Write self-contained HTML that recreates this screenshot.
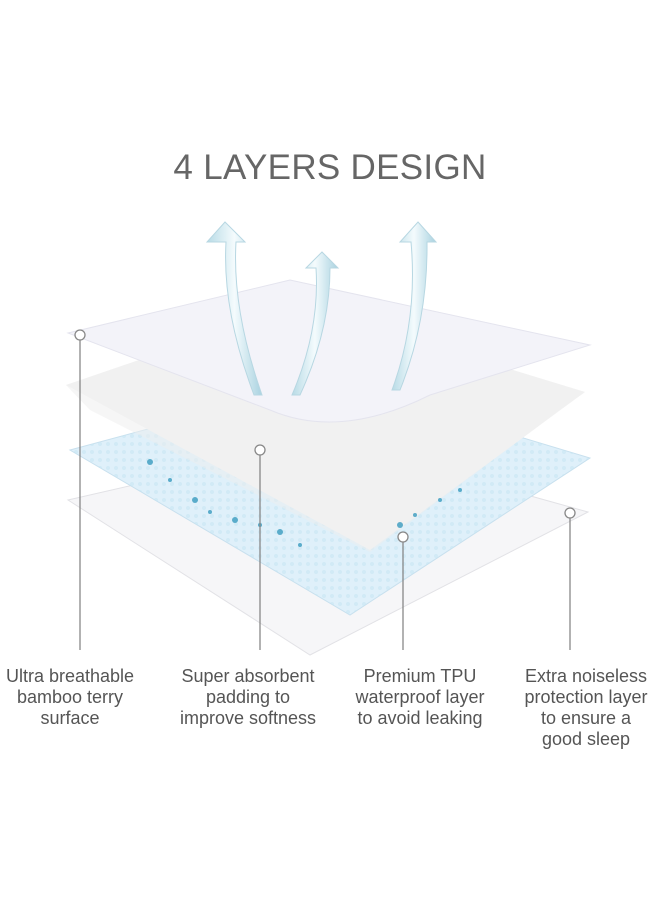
<!DOCTYPE html>
<html><head><style>
body{margin:0;background:#fff;width:660px;height:900px;overflow:hidden;position:relative;font-family:"Liberation Sans",sans-serif}
.t{position:absolute;top:148px;left:0;width:660px;text-align:center;font-size:35px;color:#666;letter-spacing:0.3px}
.l{position:absolute;top:666px;font-size:18px;line-height:21px;color:#555;text-align:center;width:180px}
</style></head><body>
<div class="t">4 LAYERS DESIGN</div>
<svg width="660" height="900" style="position:absolute;left:0;top:0">
<defs>
<linearGradient id="ar" x1="0" y1="0" x2="1" y2="0"><stop offset="0" stop-color="#b8dbe6"/><stop offset=".5" stop-color="#f4fbfd"/><stop offset="1" stop-color="#a9d2e0"/></linearGradient>
<pattern id="dots" width="8" height="8" patternUnits="userSpaceOnUse"><circle cx="4" cy="4" r="2" fill="#c7e6f3"/></pattern>
</defs>
<polygon points="68,500 330,440 588,512 310,655" fill="#f6f6f8" stroke="#e2e2e6"/>
<polygon points="70,450 330,380 590,458 350,615" fill="#dff0fa" stroke="#c8e0ee"/>
<polygon points="70,450 330,380 590,458 350,615" fill="url(#dots)" opacity=".6"/>
<polygon points="66,385 300,305 585,392 370,550" fill="#f5f5f5"/>
<polygon points="66,385 300,305 585,392 560,410 370,552 90,410" fill="#eeeeee" opacity=".5"/>
<g fill="#3a9cc0" opacity=".8">
<circle cx="150" cy="462" r="3"/><circle cx="170" cy="480" r="2"/><circle cx="195" cy="500" r="3"/><circle cx="210" cy="512" r="2"/><circle cx="235" cy="520" r="3"/><circle cx="260" cy="525" r="2"/><circle cx="280" cy="532" r="3"/><circle cx="300" cy="545" r="2"/><circle cx="400" cy="525" r="3"/><circle cx="415" cy="515" r="2"/><circle cx="440" cy="500" r="2"/><circle cx="460" cy="490" r="2"/>
</g>
<path d="M68,333 L290,280 L590,345 L430,395 Q340,440 270,410 Z" fill="#f3f3f9" stroke="#e4e4ee"/>
<g fill="url(#ar)" stroke="#b7d7e2" stroke-width="1">
<path d="M225,222 L245,242 L236,242 Q232,310 262,395 L254,395 Q222,310 226,242 L207,242 Z"/>
<path d="M322,252 L338,268 L330,268 Q330,330 300,395 L292,395 Q320,330 316,268 L306,268 Z"/>
<path d="M418,222 L436,242 L427,242 Q428,320 400,390 L392,390 Q418,320 411,242 L400,242 Z"/>
</g>
<g stroke="#888" stroke-width="1.3" fill="#fff">
<line x1="80" y1="340" x2="80" y2="650"/><line x1="260" y1="455" x2="260" y2="650"/><line x1="403" y1="542" x2="403" y2="650"/><line x1="570" y1="518" x2="570" y2="650"/>
<circle cx="80" cy="335" r="5"/><circle cx="260" cy="450" r="5"/><circle cx="403" cy="537" r="5"/><circle cx="570" cy="513" r="5"/>
</g>
</svg>
<div class="l" style="left:-20px">Ultra breathable<br>bamboo terry<br>surface</div>
<div class="l" style="left:158px">Super absorbent<br>padding to<br>improve softness</div>
<div class="l" style="left:330px">Premium TPU<br>waterproof layer<br>to avoid leaking</div>
<div class="l" style="left:496px">Extra noiseless<br>protection layer<br>to ensure a<br>good sleep</div>
</body></html>
